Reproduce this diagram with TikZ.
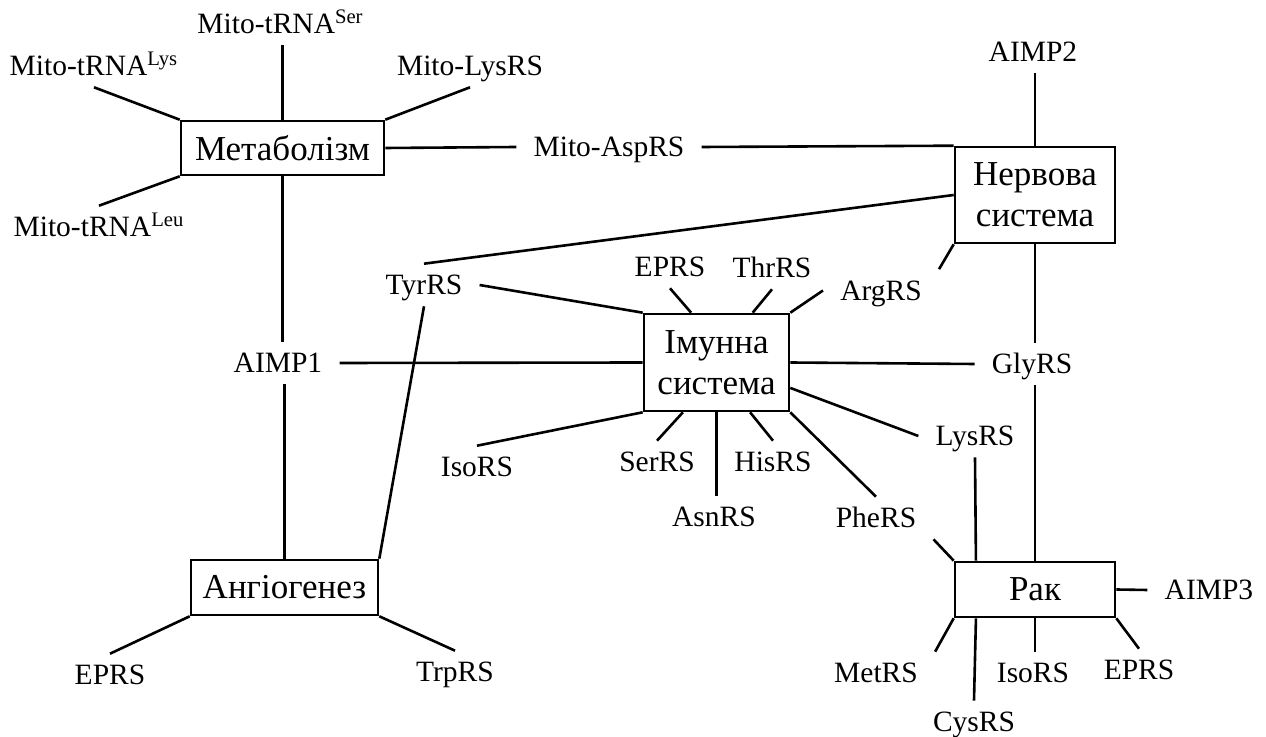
\documentclass[tikz,border=0pt]{standalone}
\usepackage{fontspec}
\setmainfont{Liberation Serif}
\tikzset{
  box/.style={draw, line width=1.3pt, inner sep=0pt, align=center, font=\fontsize{17.5}{20.5}\selectfont},
  lbl/.style={inner xsep=8pt, inner ysep=5pt, text height=10pt, text depth=0pt},
}
\begin{document}
\begin{tikzpicture}[x=0.5pt, y=-0.5pt, line width=1.3pt, font=\fontsize{14.75}{20.5}\selectfont]
\useasboundingbox (0,0) rectangle (1266,737);

\node[box, minimum width=101.5pt, minimum height=27pt] (met) at (282.5,148) {Метаболізм};
\node[box, minimum width=80pt, minimum height=48pt] (nerv) at (1035,195) {Нервова\\система};
\node[box, minimum width=72.5pt, minimum height=48.5pt] (imm) at (716.5,362.5) {Імунна\\система};
\node[box, minimum width=80pt, minimum height=27.5pt] (rak) at (1035,589.5) {Рак};
\node[box, minimum width=93.5pt, minimum height=27.5pt] (ang) at (284.5,587.5) {Ангіогенез};

\node[lbl] (tser) at (280.5,24) {Mito-tRNA\textsuperscript{Ser}};
\node[lbl] (tlys) at (94,66) {Mito-tRNA\textsuperscript{Lys}};
\node[lbl] (mlys) at (470,66) {Mito-LysRS};
\node[lbl] (tleu) at (99,227) {Mito-tRNA\textsuperscript{Leu}};
\node[lbl] (asp) at (609,147) {Mito-AspRS};
\node[lbl] (aimp2) at (1033,52) {AIMP2};
\node[lbl] (tyr) at (424,285) {TyrRS};
\node[lbl] (aimp1) at (278,363) {AIMP1};
\node[lbl] (gly) at (1032,364) {GlyRS};
\node[lbl] (eprsA) at (670,267) {EPRS};
\node[lbl] (thr) at (772,268) {ThrRS};
\node[lbl] (arg) at (881,290.5) {ArgRS};
\node[lbl] (isoA) at (477,467) {IsoRS};
\node[lbl] (ser) at (657,462) {SerRS};
\node[lbl] (his) at (773,462) {HisRS};
\node[lbl] (asn) at (714,517) {AsnRS};
\node[lbl] (phe) at (876,518) {PheRS};
\node[lbl] (lys) at (975,436) {LysRS};
\node[lbl] (aimp3) at (1209,590) {AIMP3};
\node[lbl] (metrs) at (876,673) {MetRS};
\node[lbl] (isoB) at (1033,673) {IsoRS};
\node[lbl] (eprsC) at (1139,670) {EPRS};
\node[lbl] (cys) at (974,722) {CysRS};
\node[lbl] (eprsB) at (110,675) {EPRS};
\node[lbl] (trp) at (455,672) {TrpRS};

\draw (met.north) -- (met.north |- tser.south);
\draw (met.north west) -- (tlys.south);
\draw (met.north east) -- (mlys.south);
\draw (met.south west) -- (tleu.north);
\draw (met.south) -- (met.south |- aimp1.north);
\draw (aimp1.south -| ang.north) -- (ang.north);
\draw (met.east) -- (asp.west);
\draw (asp.east) -- (nerv.north west);
\draw (nerv.north) -- (nerv.north |- aimp2.south);
\draw (nerv.west) -- (tyr.north);
\draw (tyr.east) -- (imm.north west);
\draw (tyr.south) -- (ang.north east);
\draw (aimp1.east) -- (imm.west);
\draw (imm.east) -- (gly.west);
\draw (nerv.south) -- (nerv.south |- gly.north);
\draw (gly.south -| rak.north) -- (rak.north);
\draw (arg.west) -- (imm.north east);
\draw (arg.north east) -- (nerv.south west);
\draw (eprsA.south) -- (imm.117);
\draw (thr.south) -- (imm.54);
\draw (isoA.north) -- (imm.south west);
\draw (ser.north) -- (imm.-124);
\draw (his.north) -- (imm.-56);
\draw (imm.south) -- (imm.south |- asn.north);
\draw (imm.south east) -- (phe.north);
\draw (imm.-19) -- (lys.west);
\draw (lys.south) -- (rak.154);
\draw (phe.south east) -- (rak.north west);
\draw (rak.east) -- (aimp3.west);
\draw (rak.south west) -- (metrs.north east);
\draw (rak.-154) -- (cys.north);
\draw (rak.south) -- (rak.south |- isoB.north);
\draw (rak.south east) -- (eprsC.north);
\draw (ang.south west) -- (eprsB.north);
\draw (ang.south east) -- (trp.north);
\end{tikzpicture}
\end{document}
